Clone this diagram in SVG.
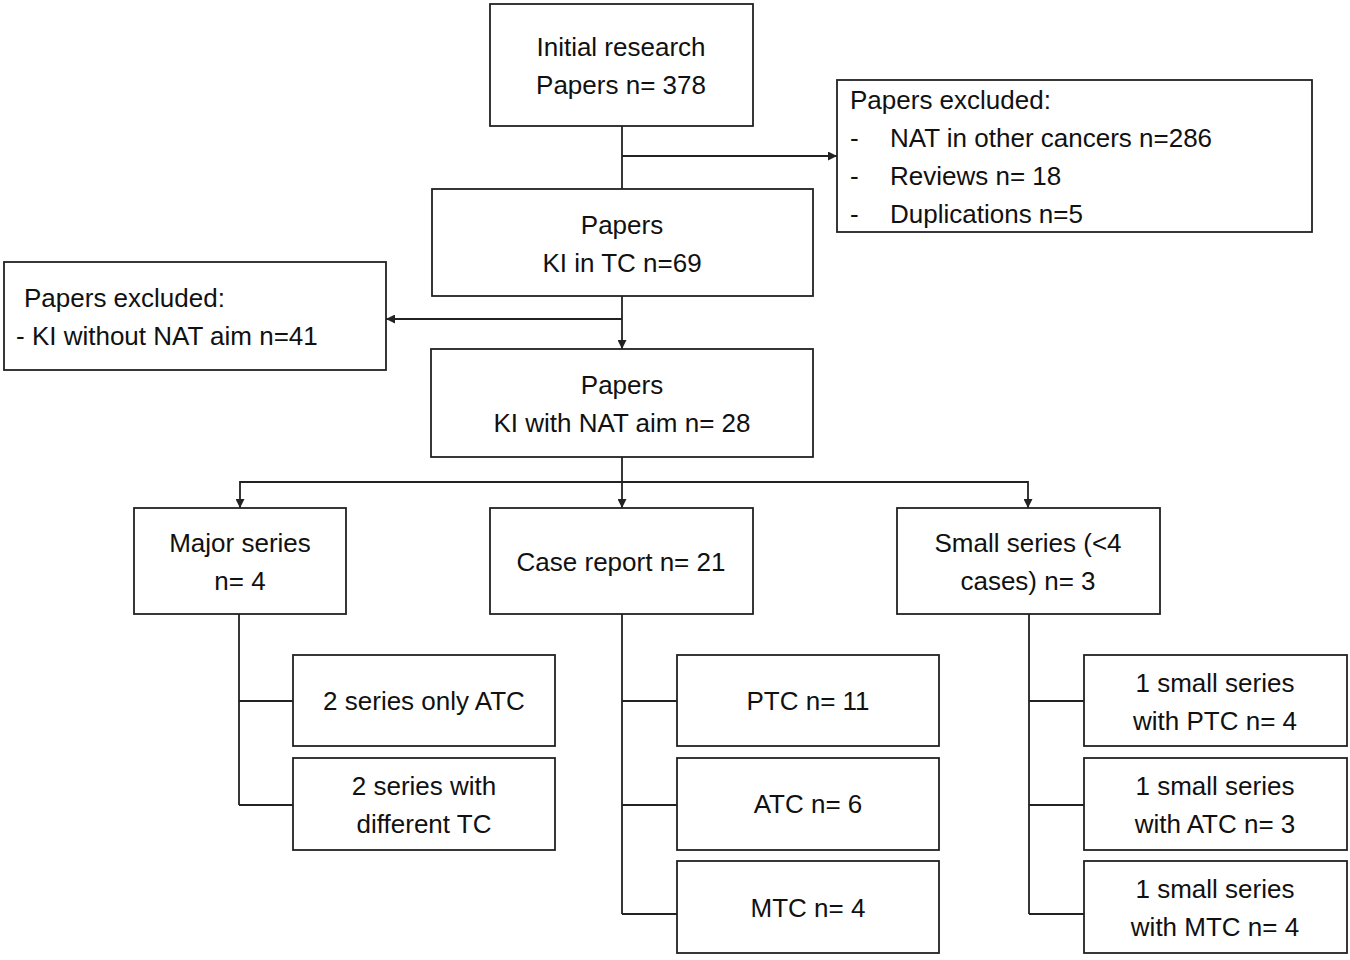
<svg xmlns="http://www.w3.org/2000/svg" width="1350" height="960" viewBox="0 0 1350 960">
<style>
.b{fill:#fff;stroke:#222;stroke-width:1.8}
text{font-family:"Liberation Sans",Arial,sans-serif;font-size:26px;fill:#111;dominant-baseline:central}
.c{text-anchor:middle}
.l{fill:none;stroke:#222;stroke-width:1.8}
</style>
<defs><marker id="a" viewBox="0 0 10 10" refX="10" refY="5" markerWidth="6" markerHeight="6" markerUnits="userSpaceOnUse" orient="auto"><path d="M0,0L10,5L0,10z" fill="#222"/></marker>
<marker id="m" viewBox="0 0 10 10" refX="10" refY="5" markerWidth="9" markerHeight="9" markerUnits="userSpaceOnUse" orient="auto"><path d="M0,0L10,5L0,10z" fill="#222"/></marker></defs>
<rect width="1350" height="960" fill="#fff"/>
<g id="connectors" class="l">
<path d="M622,126V189M622,156H837" marker-end="url(#m)"/>
<path d="M622,296V349" marker-end="url(#m)"/>
<path d="M622,319H386" marker-end="url(#m)"/>
<path d="M622,457V482H240V508" marker-end="url(#m)"/>
<path d="M622,482V508" marker-end="url(#m)"/>
<path d="M622,482H1028V508" marker-end="url(#m)"/>
<path d="M239,614V805M239,701H293M239,805H293"/>
<path d="M622,614V914M622,701H677M622,805H677M622,914H677"/>
<path d="M1029,614V914M1029,701H1084M1029,805H1084M1029,914H1084"/>
</g>
<g id="n1"><rect class="b" x="490" y="4" width="263" height="122"/><text class="c" x="621" y="47">Initial research</text><text class="c" x="621" y="85">Papers n= 378</text></g>
<g id="n2"><rect class="b" x="837" y="80" width="475" height="152"/><text x="850" y="100">Papers excluded:</text><text x="850" y="138">-</text><text x="890" y="138">NAT in other cancers n=286</text><text x="850" y="176">-</text><text x="890" y="176">Reviews n= 18</text><text x="850" y="214">-</text><text x="890" y="214">Duplications n=5</text></g>
<g id="n3"><rect class="b" x="432" y="189" width="381" height="107"/><text class="c" x="622" y="225">Papers</text><text class="c" x="622" y="263">KI in TC n=69</text></g>
<g id="n4"><rect class="b" x="4" y="262" width="382" height="108"/><text x="24" y="298">Papers excluded:</text><text x="16" y="336">- KI without NAT aim n=41</text></g>
<g id="n5"><rect class="b" x="431" y="349" width="382" height="108"/><text class="c" x="622" y="385">Papers</text><text class="c" x="622" y="423">KI with NAT aim n= 28</text></g>
<g id="n6"><rect class="b" x="134" y="508" width="212" height="106"/><text class="c" x="240" y="543">Major series</text><text class="c" x="240" y="581">n= 4</text></g>
<g id="n7"><rect class="b" x="490" y="508" width="263" height="106"/><text class="c" x="621" y="562">Case report n= 21</text></g>
<g id="n8"><rect class="b" x="897" y="508" width="263" height="106"/><text class="c" x="1028" y="543">Small series  (&lt;4</text><text class="c" x="1028" y="581">cases)  n= 3</text></g>
<g id="n9"><rect class="b" x="293" y="655" width="262" height="91"/><text class="c" x="424" y="701">2 series only ATC</text></g>
<g id="n10"><rect class="b" x="293" y="758" width="262" height="92"/><text class="c" x="424" y="786">2 series with</text><text class="c" x="424" y="824">different TC</text></g>
<g id="n11"><rect class="b" x="677" y="655" width="262" height="91"/><text class="c" x="808" y="701">PTC n= 11</text></g>
<g id="n12"><rect class="b" x="677" y="758" width="262" height="92"/><text class="c" x="808" y="804">ATC n= 6</text></g>
<g id="n13"><rect class="b" x="677" y="861" width="262" height="92"/><text class="c" x="808" y="908">MTC n= 4</text></g>
<g id="n14"><rect class="b" x="1084" y="655" width="263" height="91"/><text class="c" x="1215" y="683">1 small series</text><text class="c" x="1215" y="721">with PTC n= 4</text></g>
<g id="n15"><rect class="b" x="1084" y="758" width="263" height="92"/><text class="c" x="1215" y="786">1 small series</text><text class="c" x="1215" y="824">with ATC n= 3</text></g>
<g id="n16"><rect class="b" x="1084" y="861" width="263" height="92"/><text class="c" x="1215" y="889">1 small series</text><text class="c" x="1215" y="927">with MTC n= 4</text></g>
</svg>
